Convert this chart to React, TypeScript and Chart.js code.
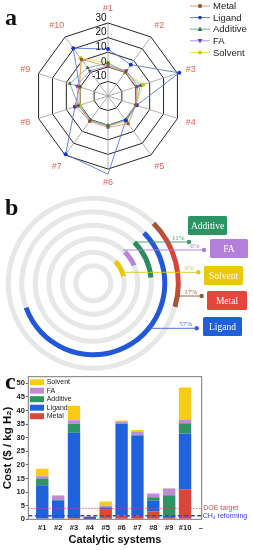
import React, { useEffect, useRef } from 'react';
import { Chart, registerables } from 'chart.js';

Chart.register(...registerables);

const SANS = "'Liberation Sans', Arial, sans-serif";
const SERIF = "'Liberation Serif', 'Times New Roman', serif";

// ---------------- data ----------------
const categories = ['#1', '#2', '#3', '#4', '#5', '#6', '#7', '#8', '#9', '#10'];
const seriesNames = ['Metal', 'Ligand', 'Additive', 'FA', 'Solvent'];
const metalCost = [0.3, 0.3, 0.5, 0.1, 3.5, 1.5, 1.5, 3.0, 0.8, 11.0];
const ligandCost = [12.2, 6.5, 31.3, 0.7, 0.8, 33.5, 29.3, 3.8, 0.5, 20.5];
const additiveCost = [2.5, 0.3, 3.3, 0.1, 0.3, 0.2, 0.3, 1.3, 7.5, 3.8];
const faCost = [0.8, 1.6, 1.3, 0.1, 0.4, 0.6, 1.0, 1.3, 2.5, 1.2];
const solventCost = [2.8, 0.1, 5.3, 0.1, 1.5, 0.5, 0.7, 0.2, 0.1, 11.9];
const radarTickValues = [-20, -10, 0, 10, 20, 30];
const costTickValues = [0, 5, 10, 15, 20, 25, 30, 35, 40, 45, 50];
const xTickLabels = [...categories, '–'];
const doeTarget = 4.0;
const ch4Reforming = 1.3;
const shareNames = ['Metal', 'Ligand', 'Additive', 'FA', 'Solvent'];
const sharePct = [17, 57, 11, 6, 9];

const seriesValues = [metalCost, ligandCost, additiveCost, faCost, solventCost];

// ---------------- styles ----------------
const radarStyles: any = {
  Metal: { line: '#e8977f', point: '#8a5533', style: 'rect', rot: 0, r: 2 },
  Ligand: { line: '#5a78e4', point: '#1b30d0', style: 'circle', rot: 0, r: 2 },
  Additive: { line: '#6fb58f', point: '#2a7a4a', style: 'triangle', rot: 0, r: 2.4 },
  FA: { line: '#ad93e2', point: '#7442c8', style: 'triangle', rot: 180, r: 2.4 },
  Solvent: { line: '#e3dc5a', point: '#c9c81e', style: 'circle', rot: 0, r: 2.2 },
};
const barColors: any = {
  Metal: '#dc463a',
  Ligand: '#1e62de',
  Additive: '#2e9463',
  FA: '#c08ad8',
  Solvent: '#f7cc12',
};
const ringColors: any = {
  Metal: '#d8453a',
  Ligand: '#2357d9',
  Additive: '#2b8c5c',
  FA: '#b784de',
  Solvent: '#e8c90a',
};
const leaderColors: any = {
  Metal: '#8e5836',
  Ligand: '#3a5fd8',
  Additive: '#3a9a6a',
  FA: '#a77bd8',
  Solvent: '#d8c820',
};
const boxColors: any = {
  Metal: '#e5453b',
  Ligand: '#1f5fdc',
  Additive: '#2a9462',
  FA: '#b37fdb',
  Solvent: '#eac80c',
};
const RING_GRAY = '#e7e7e7';

// label layout for panel b (page coordinates)
const B_TOP = 188;
const shareLayout: any = {
  Metal: { lineY: 296, dotX: 201.7, box: [207, 291, 40, 19] },
  Ligand: { lineY: 328.3, dotX: 196.7, box: [203, 317, 39, 19] },
  Additive: { lineY: 242, dotX: 189, box: [188, 216, 39, 19] },
  FA: { lineY: 250, dotX: 204, box: [210, 239, 38, 19] },
  Solvent: { lineY: 272.3, dotX: 198.3, box: [204, 266, 39, 19] },
};

function drawMarker(ctx: CanvasRenderingContext2D, style: string, x: number, y: number, r: number, color: string, rot: number) {
  ctx.save();
  ctx.fillStyle = color;
  ctx.translate(x, y);
  ctx.rotate((rot * Math.PI) / 180);
  ctx.beginPath();
  if (style === 'rect') {
    ctx.rect(-r, -r, 2 * r, 2 * r);
  } else if (style === 'triangle') {
    ctx.moveTo(0, -r * 1.2);
    ctx.lineTo(r * 1.1, r * 0.8);
    ctx.lineTo(-r * 1.1, r * 0.8);
    ctx.closePath();
  } else {
    ctx.arc(0, 0, r, 0, Math.PI * 2);
  }
  ctx.fill();
  ctx.restore();
}

function panelLetter(ctx: CanvasRenderingContext2D, letter: string, x: number, y: number) {
  ctx.save();
  ctx.font = `bold 24px ${SERIF}`;
  ctx.fillStyle = '#111';
  ctx.textAlign = 'left';
  ctx.textBaseline = 'alphabetic';
  ctx.fillText(letter, x, y);
  ctx.restore();
}

// ---------------- panel a: radar ----------------
const radarDecor = {
  id: 'radarDecor',
  afterDraw(chart: any) {
    const ctx: CanvasRenderingContext2D = chart.ctx;
    const scale = chart.scales.r;
    ctx.save();
    // tick labels
    ctx.font = `10px ${SANS}`;
    ctx.fillStyle = '#111';
    ctx.textAlign = 'right';
    ctx.textBaseline = 'middle';
    scale.ticks.forEach((t: any) => {
      if (t.value <= scale.min) return;
      const r = scale.getDistanceFromCenterForValue(t.value);
      ctx.fillText(String(t.value), scale.xCenter - 1.5, scale.yCenter - r - 5);
    });
    // point labels
    ctx.font = `9px ${SANS}`;
    ctx.fillStyle = '#e0645a';
    ctx.textAlign = 'center';
    ctx.textBaseline = 'middle';
    categories.forEach((c, i) => {
      const p = scale.getPointPosition(i, scale.drawingArea + 14);
      ctx.fillText(c, p.x, p.y);
    });
    // legend
    ctx.font = `9.5px ${SANS}`;
    ctx.textAlign = 'left';
    seriesNames.forEach((n, i) => {
      const st = radarStyles[n];
      const y = 6 + i * 11.6;
      ctx.strokeStyle = st.line;
      ctx.lineWidth = 1;
      ctx.beginPath();
      ctx.moveTo(190, y);
      ctx.lineTo(210, y);
      ctx.stroke();
      drawMarker(ctx, st.style, 200, y, st.r * 0.9, st.point, st.rot);
      ctx.fillStyle = '#222';
      ctx.fillText(n, 213, y + 0.5);
    });
    ctx.restore();
    panelLetter(ctx, 'a', 5, 25);
  },
};

function makeRadar(canvas: HTMLCanvasElement) {
  return new Chart(canvas, {
    type: 'radar',
    data: {
      labels: categories,
      datasets: seriesNames.map((n, i) => {
        const st = radarStyles[n];
        return {
          label: n,
          data: seriesValues[i],
          borderColor: st.line,
          backgroundColor: st.point,
          pointBackgroundColor: st.point,
          pointBorderColor: st.point,
          pointStyle: st.style,
          pointRotation: st.rot,
          pointRadius: st.r,
          pointBorderWidth: 0,
          borderWidth: 0.9,
          fill: false,
          clip: false,
        } as any;
      }),
    },
    options: {
      responsive: false,
      animation: false,
      devicePixelRatio: 1,
      layout: { padding: { left: 35, right: 72, top: 23, bottom: 21 } },
      plugins: { legend: { display: false }, tooltip: { enabled: false } },
      scales: {
        r: {
          min: radarTickValues[0],
          max: radarTickValues[radarTickValues.length - 1],
          beginAtZero: false,
          ticks: { stepSize: 10, display: false },
          pointLabels: { display: false },
          grid: { color: '#262626', lineWidth: 1 },
          angleLines: { color: '#9c9c9c', lineWidth: 0.8 },
        },
      },
    } as any,
    plugins: [radarDecor],
  });
}

// ---------------- panel b: rings ----------------
const ringDatasetIndex: any = { Metal: 0, Ligand: 2, Additive: 4, FA: 6, Solvent: 8 };

const ringDecor = {
  id: 'ringDecor',
  afterDraw(chart: any) {
    const ctx: CanvasRenderingContext2D = chart.ctx;
    ctx.save();
    shareNames.forEach((n, i) => {
      const lay = shareLayout[n];
      const arc = chart.getDatasetMeta(ringDatasetIndex[n]).data[0];
      const r = (arc.innerRadius + arc.outerRadius) / 2;
      const ly = lay.lineY - B_TOP;
      const dy = ly - arc.y;
      const x0 = arc.x + Math.sqrt(Math.max(r * r - dy * dy, 0));
      ctx.strokeStyle = leaderColors[n];
      ctx.lineWidth = 0.9;
      ctx.beginPath();
      ctx.moveTo(x0, ly);
      ctx.lineTo(lay.dotX, ly);
      ctx.stroke();
      ctx.fillStyle = leaderColors[n];
      ctx.beginPath();
      ctx.arc(lay.dotX, ly, 2.2, 0, Math.PI * 2);
      ctx.fill();
      ctx.font = `7px ${SERIF}`;
      ctx.textAlign = 'right';
      ctx.textBaseline = 'bottom';
      ctx.fillText(`${sharePct[i]}%`, lay.dotX - 4.5, ly - 0.5);
      // box
      const [bx, by, bw, bh] = lay.box;
      ctx.fillStyle = boxColors[n];
      ctx.beginPath();
      (ctx as any).roundRect(bx, by - B_TOP, bw, bh, 1.5);
      ctx.fill();
      ctx.fillStyle = n === 'Solvent' ? '#fffbe0' : '#ffffff';
      ctx.font = `9.5px ${SERIF}`;
      ctx.textAlign = 'center';
      ctx.textBaseline = 'middle';
      ctx.fillText(n, bx + bw / 2, by - B_TOP + bh / 2 + 0.5);
    });
    ctx.restore();
    panelLetter(ctx, 'b', 5, 215 - B_TOP);
  },
};

function makeRings(canvas: HTMLCanvasElement) {
  const datasets: any[] = [];
  shareNames.forEach((n, i) => {
    const pct = sharePct[i];
    let bg: any = [ringColors[n], RING_GRAY];
    if (n === 'Metal') {
      bg = (c: any) => {
        if (c.dataIndex === 1) return RING_GRAY;
        const chart = c.chart;
        const area = chart.chartArea;
        if (!area || !chart.ctx.createConicGradient) return ringColors.Metal;
        const cx = (area.left + area.right) / 2;
        const cy = (area.top + area.bottom) / 2;
        const g = chart.ctx.createConicGradient(-Math.PI / 4, cx, cy);
        const f = pct / 100;
        g.addColorStop(0, '#9a5a38');
        g.addColorStop(f * 0.3, '#d8453a');
        g.addColorStop(f * 0.72, '#d8453a');
        g.addColorStop(f, '#9a5a38');
        g.addColorStop(1, '#9a5a38');
        return g;
      };
    }
    datasets.push({ label: n, data: [pct, 100 - pct], backgroundColor: bg, borderWidth: 0, weight: 5 });
    datasets.push({ label: 'gap' + i, data: [1], backgroundColor: 'rgba(0,0,0,0)', borderWidth: 0, weight: 8.5 });
  });
  datasets.push({ label: 'inner', data: [0, 100], backgroundColor: [RING_GRAY, RING_GRAY], borderWidth: 0, weight: 5 });

  return new Chart(canvas, {
    type: 'doughnut',
    data: { labels: ['share', 'rest'], datasets },
    options: {
      responsive: false,
      animation: false,
      devicePixelRatio: 1,
      rotation: 45,
      cutout: '17.14%',
      layout: { padding: { left: 5.8, top: 7.8, right: 72.2, bottom: 1.2 } },
      plugins: { legend: { display: false }, tooltip: { enabled: false } },
    } as any,
    plugins: [ringDecor],
  });
}

// ---------------- panel c: stacked bars ----------------
const barDecor = {
  id: 'barDecor',
  afterDatasetsDraw(chart: any) {
    const ctx: CanvasRenderingContext2D = chart.ctx;
    const { left, right } = chart.chartArea;
    const y = chart.scales.y;
    ctx.save();
    const yd = y.getPixelForValue(doeTarget);
    ctx.strokeStyle = '#d44a4a';
    ctx.lineWidth = 1;
    ctx.setLineDash([1.2, 1.8]);
    ctx.beginPath();
    ctx.moveTo(left, yd);
    ctx.lineTo(right, yd);
    ctx.stroke();
    const yc = y.getPixelForValue(ch4Reforming);
    ctx.strokeStyle = '#3344dd';
    ctx.lineWidth = 1.3;
    ctx.setLineDash([4, 2.5]);
    ctx.beginPath();
    ctx.moveTo(left, yc);
    ctx.lineTo(right, yc);
    ctx.stroke();
    ctx.setLineDash([]);
    ctx.font = `7px ${SANS}`;
    ctx.textAlign = 'left';
    ctx.textBaseline = 'middle';
    ctx.fillStyle = '#d24a4a';
    ctx.fillText('DOE target', right + 1.5, yd);
    ctx.fillStyle = '#3a3ad6';
    ctx.fillText('CH₄ reforming', right + 1, yc);
    ctx.restore();
  },
  afterDraw(chart: any) {
    const ctx: CanvasRenderingContext2D = chart.ctx;
    const { left, right, top, bottom } = chart.chartArea;
    ctx.save();
    ctx.strokeStyle = '#777';
    ctx.lineWidth = 1;
    ctx.strokeRect(left, top, right - left, bottom - top);
    // legend (reverse order)
    ctx.font = `7px ${SANS}`;
    ctx.textAlign = 'left';
    ctx.textBaseline = 'middle';
    const names = [...seriesNames].reverse();
    names.forEach((n, i) => {
      const yy = top + 5.5 + i * 8.5;
      ctx.fillStyle = barColors[n];
      ctx.fillRect(left + 1.7, yy - 3, 14, 6);
      ctx.fillStyle = '#222';
      ctx.fillText(n, left + 18.4, yy + 0.3);
    });
    ctx.restore();
    panelLetter(ctx, 'c', 5, 389 - 366);
  },
};

function makeBars(canvas: HTMLCanvasElement) {
  return new Chart(canvas, {
    type: 'bar',
    data: {
      datasets: seriesNames.map((n, si) => ({
        label: n,
        data: seriesValues[si].map((v, i) => ({ x: i + 1, y: v })),
        backgroundColor: barColors[n],
        borderWidth: 0,
        barPercentage: 0.78,
        categoryPercentage: 1,
      })),
    },
    options: {
      responsive: false,
      animation: false,
      devicePixelRatio: 1,
      layout: { padding: { left: 0, right: 51.3, top: 10.7, bottom: 0 } },
      plugins: { legend: { display: false }, tooltip: { enabled: false } },
      scales: {
        x: {
          type: 'linear',
          stacked: true,
          offset: false,
          min: 0.12,
          max: 11.05,
          afterBuildTicks: (s: any) => {
            s.ticks = xTickLabels.map((_, i) => ({ value: i + 1 }));
          },
          afterFit: (s: any) => {
            s.height = 30.7;
          },
          ticks: {
            autoSkip: false,
            maxRotation: 0,
            padding: 4,
            color: '#222',
            font: { family: SANS, size: 7.5, weight: 'bold' },
            callback: (v: any) => xTickLabels[Math.round(v) - 1] ?? '',
          },
          grid: { display: false, drawTicks: false },
          border: { display: false },
          title: {
            display: true,
            text: 'Catalytic systems',
            color: '#111',
            font: { family: SANS, size: 11, weight: 'bold', lineHeight: 1.2 },
            padding: { top: 0, bottom: 3.4 },
          },
        },
        y: {
          stacked: true,
          min: 0,
          max: 52.4,
          afterBuildTicks: (s: any) => {
            s.ticks = costTickValues.map((v) => ({ value: v }));
          },
          afterFit: (s: any) => {
            s.width = 28.3;
          },
          ticks: {
            padding: 1,
            color: '#222',
            font: { family: SANS, size: 7.5, weight: 'bold' },
          },
          grid: { drawOnChartArea: false, drawTicks: true, tickLength: 2.5, color: '#666' },
          border: { display: false },
          title: {
            display: true,
            text: 'Cost ($ / kg H₂)',
            color: '#111',
            font: { family: SANS, size: 11.5, weight: 'bold', lineHeight: 1.2 },
            padding: { top: 0.6, bottom: 0 },
          },
        },
      },
    } as any,
    plugins: [barDecor],
  });
}

export default function App() {
  const aRef = useRef<HTMLCanvasElement>(null);
  const bRef = useRef<HTMLCanvasElement>(null);
  const cRef = useRef<HTMLCanvasElement>(null);

  useEffect(() => {
    Chart.defaults.font.family = SANS;
    const charts: Chart[] = [];
    if (aRef.current) charts.push(makeRadar(aRef.current));
    if (bRef.current) charts.push(makeRings(bRef.current));
    if (cRef.current) charts.push(makeBars(cRef.current));
    return () => charts.forEach((c) => c.destroy());
  }, []);

  return (
    <div style={{ position: 'absolute', left: 0, top: 0, width: 253, height: 550, background: '#fff', overflow: 'hidden' }}>
      <canvas ref={aRef} width={253} height={190} style={{ position: 'absolute', left: 0, top: 0 }} />
      <canvas ref={bRef} width={253} height={184} style={{ position: 'absolute', left: 0, top: B_TOP }} />
      <canvas ref={cRef} width={253} height={184} style={{ position: 'absolute', left: 0, top: 366 }} />
    </div>
  );
}
